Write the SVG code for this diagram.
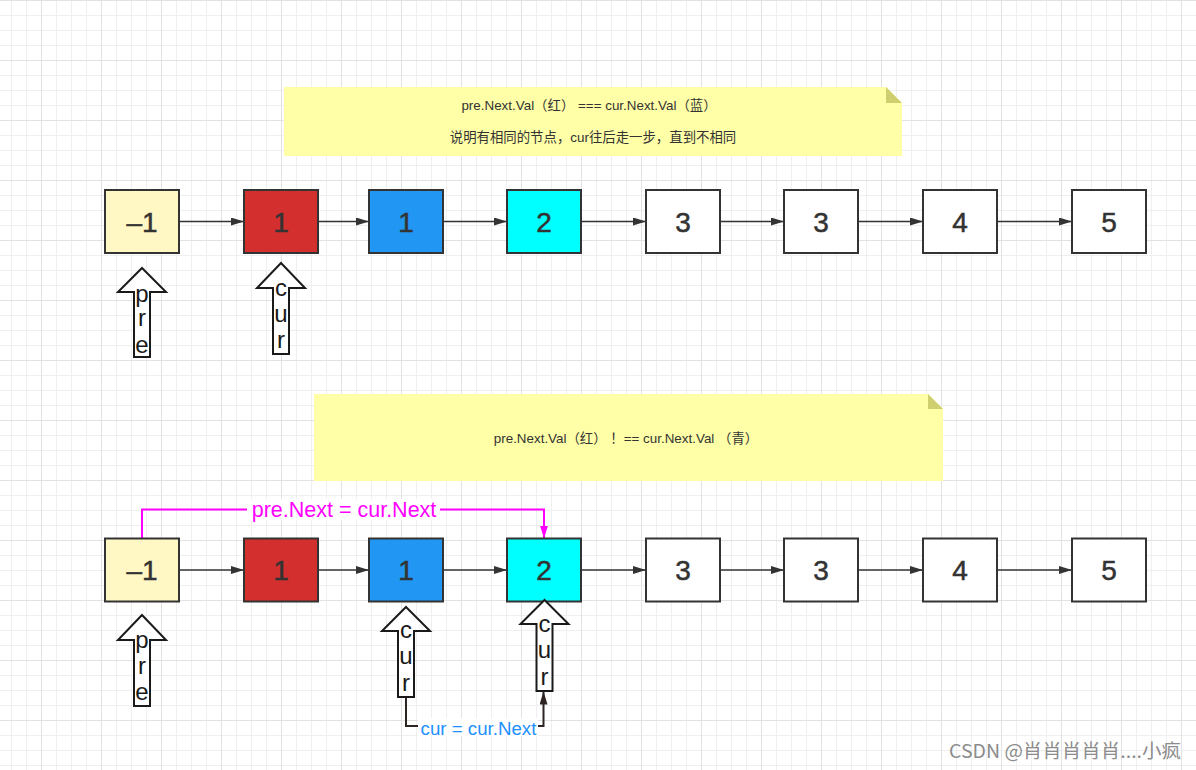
<svg xmlns="http://www.w3.org/2000/svg" width="1196" height="770" viewBox="0 0 1196 770">
  <defs>
    <pattern id="grid" x="41" y="0" width="60" height="60" patternUnits="userSpaceOnUse">
      <path d="M15.5 0V60M30.5 0V60M45.5 0V60M0 15.5H60M0 30.5H60M0 45.5H60" stroke="#efefef" stroke-width="1" fill="none"/>
      <path d="M0.5 0V60M0 0.5H60" stroke="#e2e2e2" stroke-width="1" fill="none"/>
    </pattern>
    <marker id="ah" viewBox="0 0 13 8" refX="13" refY="4" markerWidth="13" markerHeight="8" markerUnits="userSpaceOnUse" orient="auto">
      <path d="M0 0L13 4L0 8Z" fill="#333"/>
    </marker>
    <marker id="ahm" viewBox="0 0 13 8" refX="13" refY="4" markerWidth="13" markerHeight="8" markerUnits="userSpaceOnUse" orient="auto">
      <path d="M0 0L13 4L0 8Z" fill="#ff00ff"/>
    </marker>
    <marker id="ahd" viewBox="0 0 13 8" refX="13" refY="4" markerWidth="13" markerHeight="8" markerUnits="userSpaceOnUse" orient="auto">
      <path d="M0 0L13 4L0 8Z" fill="#2e2424"/>
    </marker>
  </defs>
  <style>
    .node rect { stroke: #333; stroke-width: 2; }
    .num { font-family: "Liberation Sans", Arial, sans-serif; font-size: 28px; fill: #333; stroke: #333; stroke-width: 0.5; text-anchor: middle; }
    .note-body { fill: #ffffa8; }
    .note-fold { fill: #cfcf70; }
    .note-text { font-family: "Liberation Sans", "Noto Sans CJK SC", sans-serif; font-size: 13.4px; fill: #333; text-anchor: middle; white-space: pre; }
    .ptr polygon { fill: #fff; stroke: #1a1a1a; stroke-width: 2; stroke-linejoin: miter; }
    .ptr text { font-family: "Liberation Sans", Arial, sans-serif; font-size: 24px; fill: #1a1a1a; text-anchor: middle; }
    .edge { stroke: #333; stroke-width: 1.6; fill: none; marker-end: url(#ah); }
    .lbl { font-family: "Liberation Sans", Arial, sans-serif; text-anchor: middle; }
  </style>
  <rect width="1196" height="770" fill="#fff"/>
  <rect width="1196" height="770" fill="url(#grid)"/>

  <!-- notes -->
  <g id="note1">
    <path class="note-body" d="M284 87H886L902 103V156H284Z"/>
    <path class="note-fold" d="M886 87L902 103H886Z"/>
    <text class="note-text" x="589" y="109.5">pre.Next.Val（红） === cur.Next.Val（蓝）</text>
    <text class="note-text" x="593" y="141.5">说明有相同的节点，cur往后走一步，直到不相同</text>
  </g>
  <g id="note2">
    <path class="note-body" d="M314 394H928L943 409V481H314Z"/>
    <path class="note-fold" d="M928 394L943 409H928Z"/>
    <text class="note-text" x="626" y="442.5">pre.Next.Val（红） ！== cur.Next.Val （青）</text>
  </g>

  <!-- connectors -->
  <g id="connectors">
    <path class="edge" d="M179 221.5H244"/>
    <path class="edge" d="M318 221.5H369"/>
    <path class="edge" d="M443 221.5H507"/>
    <path class="edge" d="M581 221.5H646"/>
    <path class="edge" d="M720 221.5H784"/>
    <path class="edge" d="M858 221.5H923"/>
    <path class="edge" d="M997 221.5H1072"/>

    <path class="edge" d="M179 570H244"/>
    <path class="edge" d="M318 570H369"/>
    <path class="edge" d="M443 570H507"/>
    <path class="edge" d="M581 570H646"/>
    <path class="edge" d="M720 570H784"/>
    <path class="edge" d="M858 570H923"/>
    <path class="edge" d="M997 570H1072"/>

    <path d="M142 538.5V509.5H544V538.5" stroke="#ff00ff" stroke-width="2" fill="none" marker-end="url(#ahm)"/>
    <rect x="247" y="499" width="193" height="21" fill="#fff"/>
    <text class="lbl" x="344" y="516.5" font-size="21.5" fill="#ff00ff">pre.Next = cur.Next</text>

    <path d="M406 697V726H543.5V691.5" stroke="#2e2424" stroke-width="2" fill="none" marker-end="url(#ahd)"/>
    <rect x="418" y="718" width="120" height="18" fill="#fff"/>
    <text class="lbl" x="478.5" y="734.5" font-size="18.7" fill="#1e90ff">cur = cur.Next</text>
  </g>

  <!-- row 1 nodes -->
  <g id="r1n1" class="node"><rect x="105" y="190" width="74" height="63" fill="#fff8c5"/><text class="num" x="142" y="231.5">–1</text></g>
  <g id="r1n2" class="node"><rect x="244" y="190" width="74" height="63" fill="#d32f2f"/><text class="num" x="281" y="231.5">1</text></g>
  <g id="r1n3" class="node"><rect x="369" y="190" width="74" height="63" fill="#2196f3"/><text class="num" x="406" y="231.5">1</text></g>
  <g id="r1n4" class="node"><rect x="507" y="190" width="74" height="63" fill="#00ffff"/><text class="num" x="544" y="231.5">2</text></g>
  <g id="r1n5" class="node"><rect x="646" y="190" width="74" height="63" fill="#fff"/><text class="num" x="683" y="231.5">3</text></g>
  <g id="r1n6" class="node"><rect x="784" y="190" width="74" height="63" fill="#fff"/><text class="num" x="821" y="231.5">3</text></g>
  <g id="r1n7" class="node"><rect x="923" y="190" width="74" height="63" fill="#fff"/><text class="num" x="960" y="231.5">4</text></g>
  <g id="r1n8" class="node"><rect x="1072" y="190" width="74" height="63" fill="#fff"/><text class="num" x="1109" y="231.5">5</text></g>

  <!-- row 2 nodes -->
  <g id="r2n1" class="node"><rect x="105" y="538.5" width="74" height="63" fill="#fff8c5"/><text class="num" x="142" y="580">–1</text></g>
  <g id="r2n2" class="node"><rect x="244" y="538.5" width="74" height="63" fill="#d32f2f"/><text class="num" x="281" y="580">1</text></g>
  <g id="r2n3" class="node"><rect x="369" y="538.5" width="74" height="63" fill="#2196f3"/><text class="num" x="406" y="580">1</text></g>
  <g id="r2n4" class="node"><rect x="507" y="538.5" width="74" height="63" fill="#00ffff"/><text class="num" x="544" y="580">2</text></g>
  <g id="r2n5" class="node"><rect x="646" y="538.5" width="74" height="63" fill="#fff"/><text class="num" x="683" y="580">3</text></g>
  <g id="r2n6" class="node"><rect x="784" y="538.5" width="74" height="63" fill="#fff"/><text class="num" x="821" y="580">3</text></g>
  <g id="r2n7" class="node"><rect x="923" y="538.5" width="74" height="63" fill="#fff"/><text class="num" x="960" y="580">4</text></g>
  <g id="r2n8" class="node"><rect x="1072" y="538.5" width="74" height="63" fill="#fff"/><text class="num" x="1109" y="580">5</text></g>

  <!-- pointers -->
  <g id="r1pre" class="ptr">
    <polygon points="142,268 166,292 150,292 150,357 134,357 134,292 118,292"/>
    <text x="142" y="301.5">p</text><text x="142" y="326">r</text><text x="142" y="352.5">e</text>
  </g>
  <g id="r1cur" class="ptr">
    <polygon points="281,263 305,288 289,288 289,354 273,354 273,288 257,288"/>
    <text x="281" y="295.5">c</text><text x="281" y="322">u</text><text x="281" y="348">r</text>
  </g>
  <g id="r2pre" class="ptr">
    <polygon points="142,615 166,640 150,640 150,706 134,706 134,640 118,640"/>
    <text x="142" y="648">p</text><text x="142" y="673.5">r</text><text x="142" y="700">e</text>
  </g>
  <g id="r2cur1" class="ptr">
    <polygon points="406,607 430,631 414,631 414,697 398,697 398,631 382,631"/>
    <text x="406" y="637.5">c</text><text x="406" y="664">u</text><text x="406" y="690.5">r</text>
  </g>
  <g id="r2cur2" class="ptr">
    <polygon points="544.5,600 568.5,624 552.5,624 552.5,691 536.5,691 536.5,624 520.5,624"/>
    <text x="544.5" y="632">c</text><text x="544.5" y="658">u</text><text x="544.5" y="685">r</text>
  </g>

  <text x="949" y="758" font-family="'Noto Sans CJK SC', 'Noto Sans', sans-serif" font-size="19" fill="#8c8c8c" textLength="232" lengthAdjust="spacingAndGlyphs">CSDN @肖肖肖肖肖....小疯</text>
</svg>
